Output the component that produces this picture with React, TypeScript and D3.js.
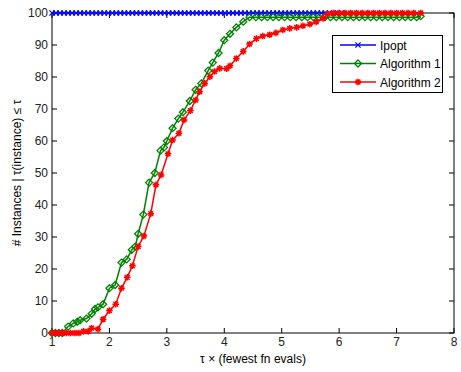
import React from "react";
import * as d3 from "d3";

const xTicks = [1, 2, 3, 4, 5, 6, 7, 8];
const yTicks = [0, 10, 20, 30, 40, 50, 60, 70, 80, 90, 100];

const ipoptX = [1.0, 1.07, 1.14, 1.21, 1.28, 1.35, 1.42, 1.49, 1.56, 1.63, 1.7, 1.77, 1.84, 1.91, 1.98, 2.05, 2.12, 2.19, 2.26, 2.33, 2.4, 2.47, 2.54, 2.61, 2.68, 2.75, 2.82, 2.89, 2.96, 3.03, 3.1, 3.17, 3.24, 3.31, 3.38, 3.45, 3.52, 3.59, 3.66, 3.73, 3.8, 3.87, 3.94, 4.01, 4.08, 4.15, 4.22, 4.29, 4.36, 4.43, 4.5, 4.57, 4.64, 4.71, 4.78, 4.85, 4.92, 4.99, 5.06, 5.13, 5.2, 5.27, 5.34, 5.41, 5.48, 5.55, 5.62, 5.69, 5.76, 5.83, 5.9, 5.97, 6.04];
const ipoptY = [100, 100, 100, 100, 100, 100, 100, 100, 100, 100, 100, 100, 100, 100, 100, 100, 100, 100, 100, 100, 100, 100, 100, 100, 100, 100, 100, 100, 100, 100, 100, 100, 100, 100, 100, 100, 100, 100, 100, 100, 100, 100, 100, 100, 100, 100, 100, 100, 100, 100, 100, 100, 100, 100, 100, 100, 100, 100, 100, 100, 100, 100, 100, 100, 100, 100, 100, 100, 100, 100, 100, 100, 100];

const alg1X = [1.0, 1.06, 1.12, 1.18, 1.28, 1.37, 1.44, 1.49, 1.6, 1.69, 1.75, 1.8, 1.89, 2.0, 2.1, 2.21, 2.3, 2.39, 2.45, 2.5, 2.59, 2.69, 2.79, 2.89, 2.95, 3.0, 3.1, 3.2, 3.28, 3.4, 3.5, 3.6, 3.72, 3.8, 3.9, 4.0, 4.1, 4.21, 4.33, 4.44, 4.55, 4.65, 4.75, 4.85, 4.95, 5.05, 5.15, 5.25, 5.35, 5.45, 5.55, 5.65, 5.75, 5.85, 5.95, 6.05, 6.15, 6.25, 6.35, 6.45, 6.55, 6.65, 6.75, 6.85, 6.95, 7.05, 7.15, 7.25, 7.35, 7.42];
const alg1Y = [0, 0, 0, 0, 2, 3, 3.5, 4, 4.5, 6, 7.5, 8, 9, 14, 15, 22, 23, 26, 27, 31, 37, 47, 50, 57, 58, 60, 64, 67, 69, 72.5, 76, 78, 82, 84.5, 87.5, 91.5, 93.5, 95.5, 97.3, 98.7, 98.7, 98.7, 98.7, 98.7, 98.7, 98.7, 98.7, 98.7, 98.7, 98.7, 98.7, 98.7, 98.7, 98.7, 98.7, 98.7, 98.7, 98.7, 98.7, 98.7, 98.7, 98.7, 98.7, 98.7, 98.7, 98.7, 98.7, 98.7, 98.7, 99];

const alg2X = [1.0, 1.06, 1.12, 1.18, 1.25, 1.32, 1.4, 1.47, 1.55, 1.63, 1.69, 1.8, 1.89, 2.0, 2.11, 2.21, 2.31, 2.4, 2.5, 2.6, 2.72, 2.81, 2.9, 3.02, 3.1, 3.21, 3.3, 3.41, 3.5, 3.57, 3.66, 3.75, 3.83, 3.92, 4.04, 4.1, 4.21, 4.33, 4.44, 4.56, 4.67, 4.79, 4.9, 5.02, 5.14, 5.26, 5.37, 5.49, 5.6, 5.72, 5.8, 5.9, 6.0, 6.1, 6.2, 6.3, 6.4, 6.5, 6.6, 6.7, 6.8, 6.9, 7.0, 7.1, 7.2, 7.3, 7.42];
const alg2Y = [0, 0, 0, 0, 0, 0, 0, 0, 0.5, 0.5, 1.5, 1.2, 4.3, 7, 9, 14, 17.4, 21, 27, 30.3, 37.3, 46.3, 49.4, 56, 60.3, 62.4, 66.6, 69.5, 72.8, 75.4, 78, 80.1, 81.7, 82.7, 82.6, 83.5, 85.8, 88, 90.3, 92, 92.8, 93.2, 93.8, 94.7, 95.2, 95.5, 96, 96.5, 97.2, 98.3, 99.7, 100, 100, 100, 100, 100, 100, 100, 100, 100, 100, 100, 100, 100, 100, 100, 100];

const seriesNames = ["Ipopt", "Algorithm 1", "Algorithm 2"];
const seriesColors = ["#0000ff", "#008000", "#ff0000"];

const W = 461;
const H = 372;
const L = 52, R = 454, T = 13, B = 333;

function Marker({ kind, x, y, color }: { kind: number; x: number; y: number; color: string }) {
  if (kind === 0) {
    const s = 2.6;
    return (
      <path d={`M${x - s},${y - s}L${x + s},${y + s}M${x - s},${y + s}L${x + s},${y - s}`} stroke={color} strokeWidth={1.2} fill="none" />
    );
  }
  if (kind === 1) {
    const s = 3.5;
    return (
      <path d={`M${x},${y - s}L${x + s},${y}L${x},${y + s}L${x - s},${y}Z`} stroke={color} strokeWidth={1.3} fill="none" />
    );
  }
  const s = 3.3;
  const d = s * 0.72;
  return (
    <path
      d={`M${x - s},${y}L${x + s},${y}M${x},${y - s}L${x},${y + s}M${x - d},${y - d}L${x + d},${y + d}M${x - d},${y + d}L${x + d},${y - d}`}
      stroke={color}
      strokeWidth={1.5}
      fill="none"
    />
  );
}

export default function App() {
  const x = d3.scaleLinear().domain([1, 8]).range([L, R]);
  const y = d3.scaleLinear().domain([0, 100]).range([B, T]);
  const series = [
    { xs: ipoptX, ys: ipoptY },
    { xs: alg1X, ys: alg1Y },
    { xs: alg2X, ys: alg2Y },
  ];
  const line = d3
    .line<[number, number]>()
    .x((d) => x(d[0]))
    .y((d) => y(d[1]));
  const font = "'Liberation Sans', Arial, sans-serif";
  const tl = 5;

  return (
    <svg width={W} height={H} style={{ position: "absolute", left: 0, top: 0, background: "#fff" }} fontFamily={font}>
      <rect x={0} y={0} width={W} height={H} fill="#fff" />
      {xTicks.map((t) => (
        <g key={"xt" + t}>
          <line x1={x(t)} x2={x(t)} y1={B} y2={B - tl} stroke="#000" strokeWidth={1} />
          <line x1={x(t)} x2={x(t)} y1={T} y2={T + tl} stroke="#000" strokeWidth={1} />
          <text x={x(t)} y={B + 13} fontSize={12} textAnchor="middle" fill="#222">
            {t}
          </text>
        </g>
      ))}
      {yTicks.map((t) => (
        <g key={"yt" + t}>
          <line x1={L} x2={L + tl} y1={y(t)} y2={y(t)} stroke="#000" strokeWidth={1} />
          <line x1={R} x2={R - tl} y1={y(t)} y2={y(t)} stroke="#000" strokeWidth={1} />
          <text x={L - 4} y={y(t) + 4} fontSize={12} textAnchor="end" fill="#222">
            {t}
          </text>
        </g>
      ))}
      <rect x={L} y={T} width={R - L} height={B - T} fill="none" stroke="#000" strokeWidth={1} />
      {series.map((s, i) => {
        const pts: [number, number][] = s.xs.map((v, j) => [v, s.ys[j]]);
        return (
          <g key={"s" + i}>
            <path d={line(pts) || ""} stroke={seriesColors[i]} strokeWidth={1.5} fill="none" />
            {pts.map((p, j) => (
              <Marker key={j} kind={i} x={x(p[0])} y={y(p[1])} color={seriesColors[i]} />
            ))}
          </g>
        );
      })}
      <g>
        <rect x={332.5} y={35.5} width={110} height={57} fill="#fff" stroke="#000" strokeWidth={1} />
        {seriesNames.map((n, i) => {
          const ly = 45 + i * 18.5;
          return (
            <g key={"l" + i}>
              <line x1={340} x2={376} y1={ly} y2={ly} stroke={seriesColors[i]} strokeWidth={1.5} />
              <Marker kind={i} x={358} y={ly} color={seriesColors[i]} />
              <text x={380} y={ly + 4.5} fontSize={12} fill="#000">
                {n}
              </text>
            </g>
          );
        })}
      </g>
      <text x={(L + R) / 2} y={363} fontSize={12} textAnchor="middle" fill="#000">
        τ × (fewest fn evals)
      </text>
      <text
        transform={`translate(21, ${(T + B) / 2}) rotate(-90)`}
        fontSize={12}
        textAnchor="middle"
        fill="#000"
      >
        # Instances | τ(instance) ≤ τ
      </text>
    </svg>
  );
}
